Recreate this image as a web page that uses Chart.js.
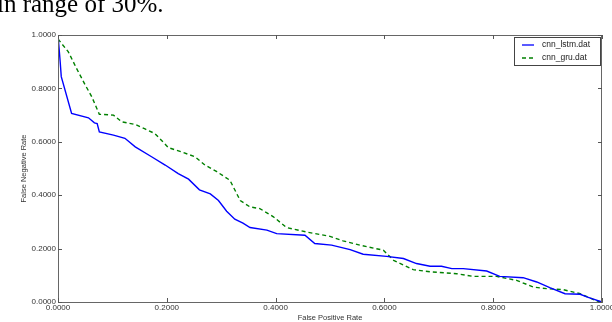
<!DOCTYPE html>
<html>
<head>
<meta charset="utf-8">
<script src="https://cdn.jsdelivr.net/npm/chart.js@4/dist/chart.umd.min.js"></script>
<style>
  html, body { margin: 0; padding: 0; background: #fff; }
  #wrap { position: relative; width: 612px; height: 322px; overflow: hidden; }
  #paperText {
    position: absolute; left: -3px; top: -9px;
    font-family: "Liberation Serif", serif; font-size: 25px; line-height: 25px;
    color: #000; white-space: nowrap;
  }
  canvas { position: absolute; left: 0; top: 0; }
</style>
</head>
<body>
<div id="wrap">
  <canvas id="rocChart" width="612" height="322"></canvas>
  <div id="paperText">in range of 30%.</div>
</div>
<script>
// Datos
const fprLstm = [0, 0.004, 0.006, 0.025, 0.056, 0.067, 0.072, 0.076, 0.102, 0.123, 0.142, 0.172, 0.197, 0.221,
  0.24, 0.26, 0.28, 0.295, 0.31, 0.325, 0.34, 0.353, 0.384, 0.402, 0.454, 0.472, 0.503, 0.537, 0.561,
  0.604, 0.635, 0.659, 0.684, 0.705, 0.724, 0.745, 0.788, 0.812, 0.855, 0.88, 0.904, 0.932, 0.96, 0.972, 1.0];
const fnrLstm = [1.0, 0.90, 0.844, 0.706, 0.69, 0.671, 0.668, 0.637, 0.625, 0.613, 0.581, 0.544, 0.513, 0.481,
  0.46, 0.42, 0.405, 0.38, 0.34, 0.31, 0.295, 0.279, 0.269, 0.256, 0.25, 0.219, 0.213, 0.196, 0.179,
  0.171, 0.163, 0.144, 0.134, 0.134, 0.125, 0.125, 0.116, 0.096, 0.091, 0.075, 0.054, 0.031, 0.029, 0.019, 0.0];

const fprGru = [0, 0.019, 0.034, 0.05, 0.062, 0.076, 0.102, 0.117, 0.142, 0.16, 0.178, 0.19, 0.203, 0.227,
  0.252, 0.27, 0.292, 0.316, 0.335, 0.353, 0.371, 0.396, 0.42, 0.457, 0.5, 0.524, 0.555, 0.598, 0.617,
  0.653, 0.684, 0.733, 0.763, 0.806, 0.843, 0.874, 0.898, 0.929, 0.96, 0.99, 1.0];
const fnrGru = [0.985, 0.937, 0.875, 0.813, 0.769, 0.703, 0.70, 0.675, 0.665, 0.648, 0.631, 0.606, 0.578, 0.562,
  0.544, 0.513, 0.488, 0.456, 0.38, 0.356, 0.35, 0.319, 0.279, 0.262, 0.246, 0.229, 0.213, 0.194, 0.156,
  0.121, 0.113, 0.106, 0.096, 0.096, 0.081, 0.056, 0.05, 0.046, 0.031, 0.004, 0.0];

const tickValues = [0, 0.2, 0.4, 0.6, 0.8, 1.0];
const seriesNames = ['cnn_lstm.dat', 'cnn_gru.dat'];

const toPoints = (xs, ys) => xs.map((x, i) => ({ x: x, y: ys[i] }));

// Marco y marcas de graduacion hacia dentro (estilo matplotlib)
const framePlugin = {
  id: 'frame',
  afterDraw(chart) {
    const { ctx, chartArea: a, scales } = chart;
    ctx.save();
    ctx.strokeStyle = '#666';
    ctx.lineWidth = 1;
    ctx.strokeRect(a.left + 0.5, a.top + 0.5, a.right - a.left - 1, a.bottom - a.top);
    ctx.strokeStyle = '#555';
    tickValues.forEach(v => {
      const px = Math.round(scales.x.getPixelForValue(v)) + 0.5;
      ctx.beginPath();
      ctx.moveTo(px, a.bottom); ctx.lineTo(px, a.bottom - 4);
      ctx.moveTo(px, a.top); ctx.lineTo(px, a.top + 4);
      ctx.stroke();
      const py = Math.round(scales.y.getPixelForValue(v)) + 0.5;
      ctx.beginPath();
      ctx.moveTo(a.left, py); ctx.lineTo(a.left + 4, py);
      ctx.moveTo(a.right, py); ctx.lineTo(a.right - 4, py);
      ctx.stroke();
    });

    // Leyenda
    const lx = 514, ly = 37, lw = 86, lh = 28;
    ctx.fillStyle = '#fff';
    ctx.fillRect(lx, ly, lw, lh);
    ctx.strokeStyle = '#444';
    ctx.strokeRect(lx + 0.5, ly + 0.5, lw, lh);
    ctx.font = '8.5px "Liberation Sans", sans-serif';
    ctx.textBaseline = 'middle';
    chart.data.datasets.forEach((ds, i) => {
      const y = ly + 8 + i * 13;
      ctx.strokeStyle = ds.borderColor;
      ctx.lineWidth = 1.3;
      ctx.setLineDash(ds.borderDash || []);
      ctx.beginPath();
      ctx.moveTo(lx + 8, y); ctx.lineTo(lx + 20, y);
      ctx.stroke();
      ctx.setLineDash([]);
      ctx.fillStyle = '#222';
      ctx.fillText(ds.label, lx + 28, y);
    });
    ctx.restore();
  }
};

const ctx = document.getElementById('rocChart').getContext('2d');
const rocChart = new Chart(ctx, {
  type: 'line',
  data: {
    datasets: [
      {
        label: seriesNames[0],
        data: toPoints(fprLstm, fnrLstm),
        borderColor: '#0000ff',
        borderWidth: 1.4,
        pointRadius: 0,
        tension: 0,
        fill: false
      },
      {
        label: seriesNames[1],
        data: toPoints(fprGru, fnrGru),
        borderColor: '#008000',
        borderWidth: 1.4,
        borderDash: [4, 3],
        pointRadius: 0,
        tension: 0,
        fill: false
      }
    ]
  },
  options: {
    responsive: false,
    animation: false,
    layout: { padding: { top: 35, right: 10, left: 0, bottom: 0 } },
    plugins: { legend: { display: false }, tooltip: { enabled: false } },
    scales: {
      x: {
        type: 'linear',
        min: 0, max: 1,
        afterBuildTicks: s => { s.ticks = tickValues.map(v => ({ value: v })); },
        ticks: {
          callback: v => v.toFixed(4),
          font: { family: 'Liberation Sans', size: 8 },
          color: '#333',
          padding: 1,
          maxRotation: 0
        },
        grid: { drawOnChartArea: false, drawTicks: false },
        border: { color: '#666' },
        title: {
          display: true,
          text: 'False Positive Rate',
          font: { family: 'Liberation Sans', size: 7.5 },
          color: '#333',
          padding: { top: 2, bottom: 0 }
        },
        afterFit: s => { s.height = 20; s.paddingLeft = 0; s.paddingRight = 0; }
      },
      y: {
        type: 'linear',
        min: 0, max: 1,
        afterBuildTicks: s => { s.ticks = tickValues.map(v => ({ value: v })); },
        ticks: {
          callback: v => v.toFixed(4),
          font: { family: 'Liberation Sans', size: 8 },
          color: '#333',
          padding: 2
        },
        grid: { drawOnChartArea: false, drawTicks: false },
        border: { color: '#666' },
        title: {
          display: true,
          text: 'False Negative Rate',
          font: { family: 'Liberation Sans', size: 7.5 },
          color: '#333',
          padding: { top: 19, bottom: 4 }
        },
        afterFit: s => { s.width = 58; s.paddingTop = 0; s.paddingBottom = 0; }
      }
    }
  },
  plugins: [framePlugin]
});
</script>
</body>
</html>
